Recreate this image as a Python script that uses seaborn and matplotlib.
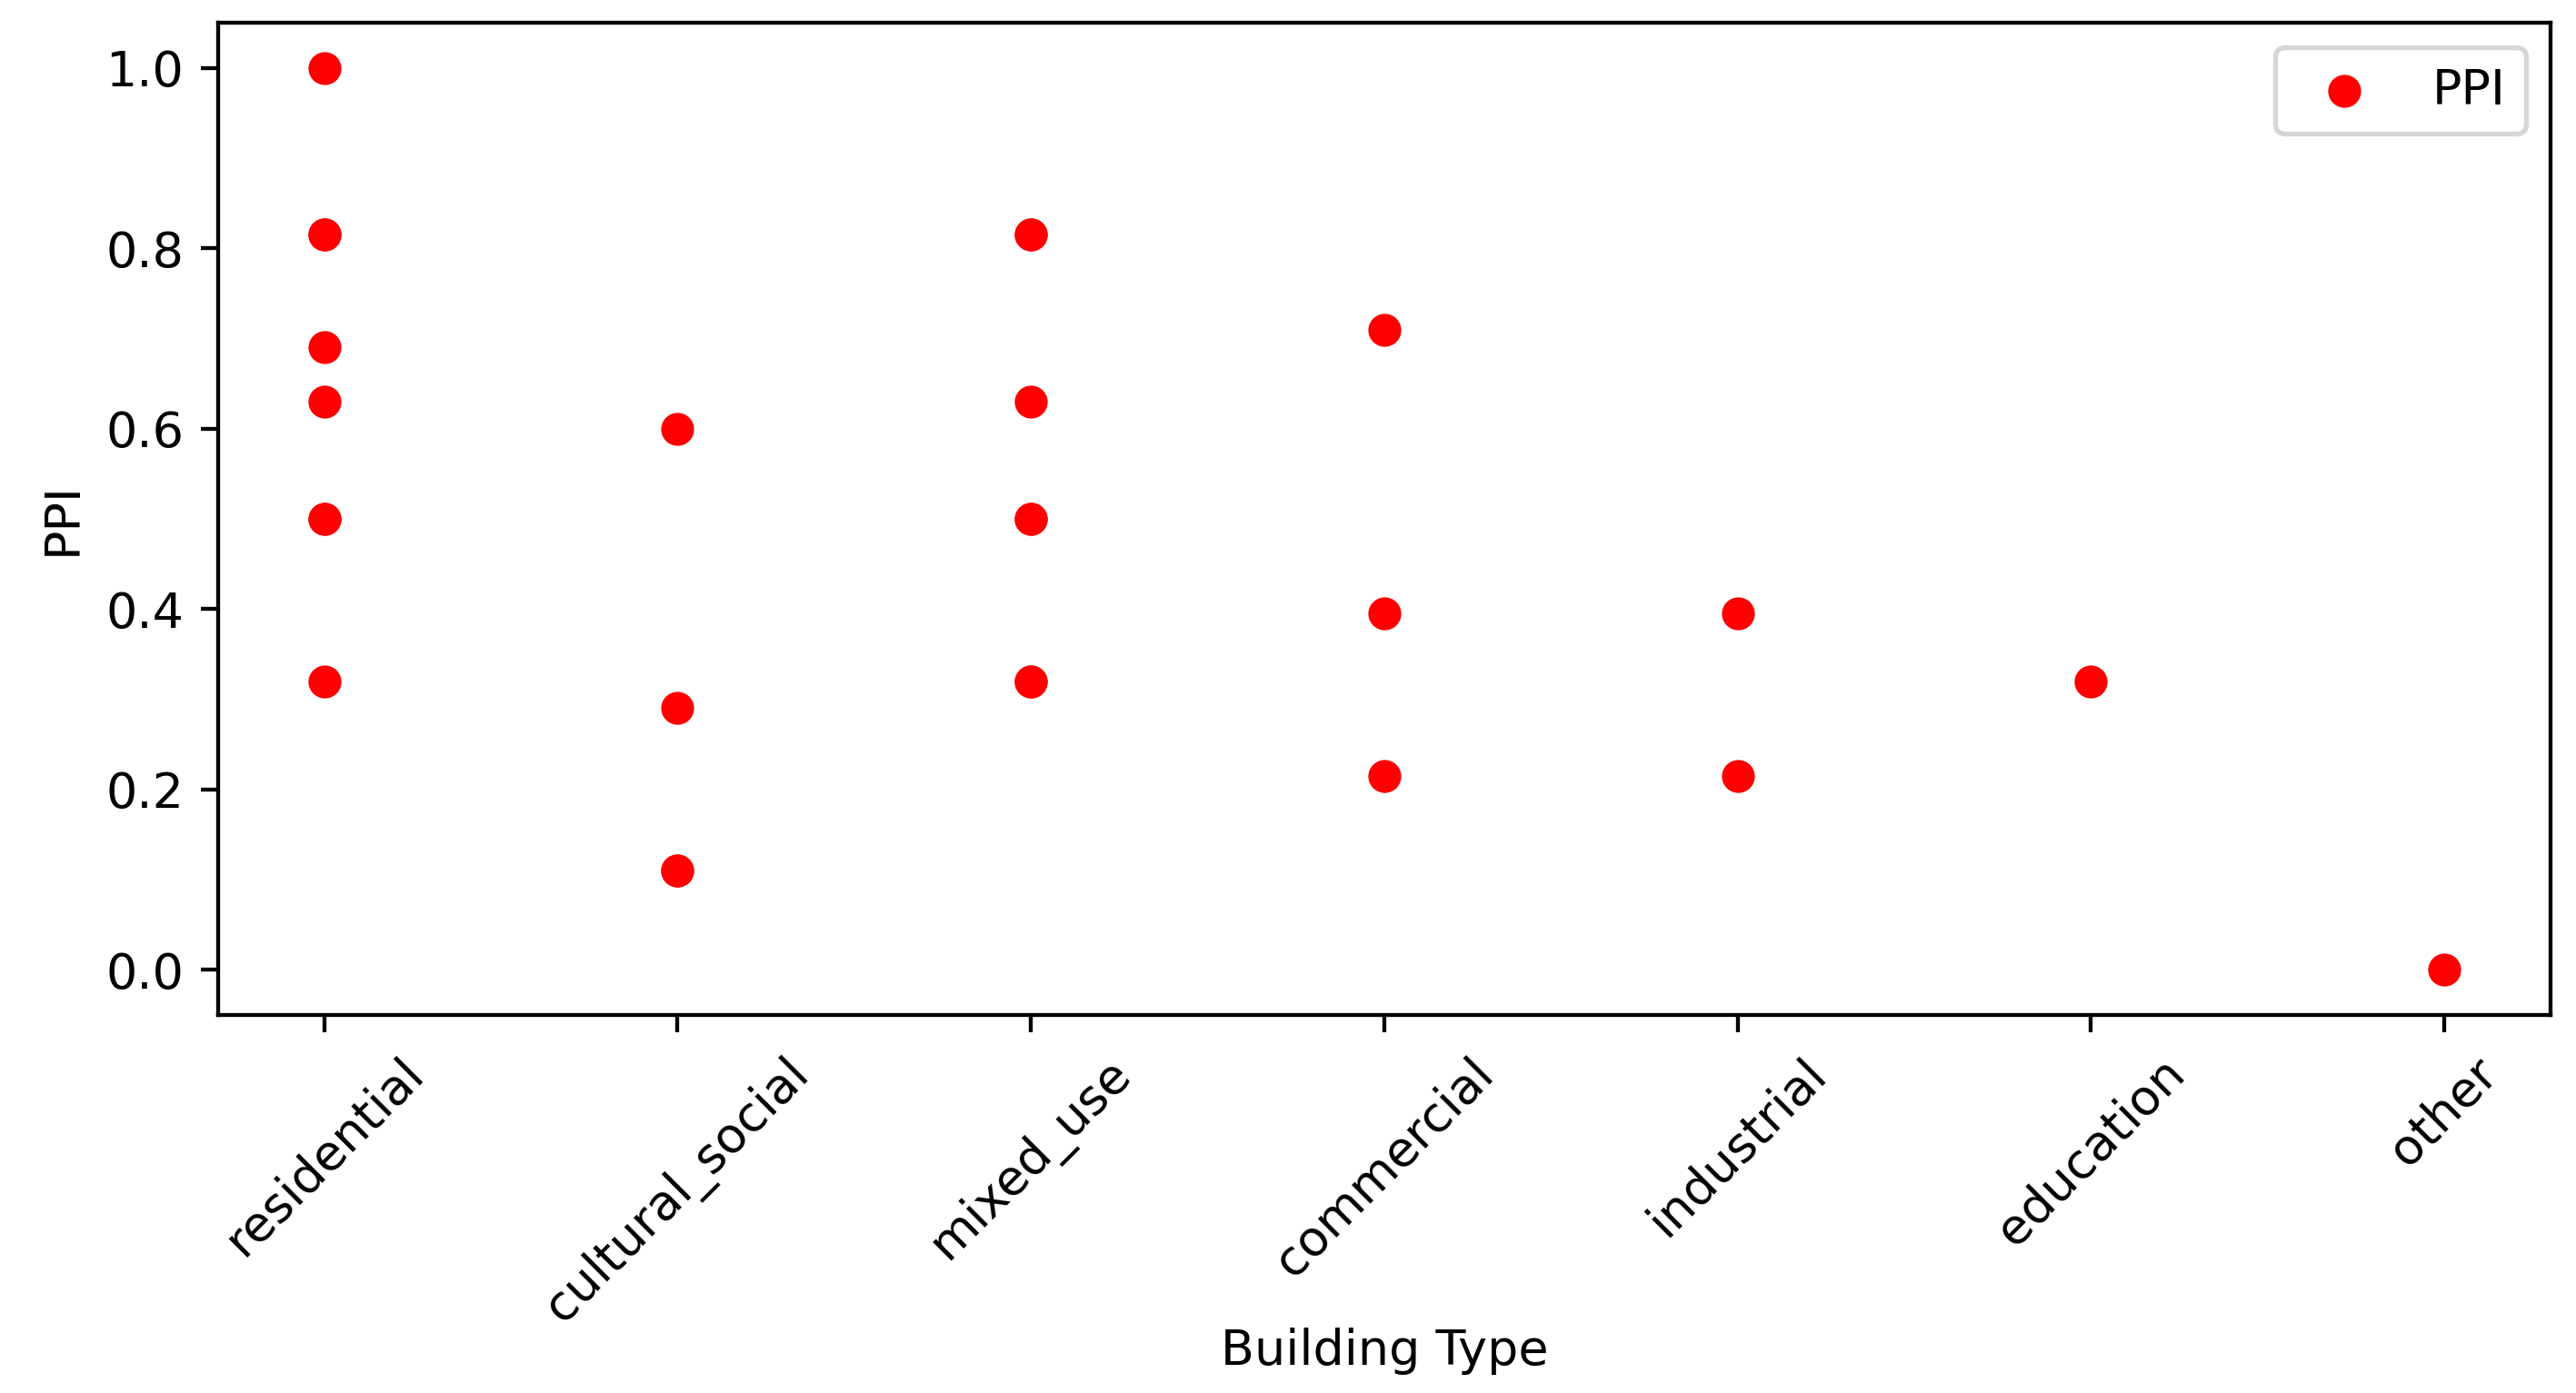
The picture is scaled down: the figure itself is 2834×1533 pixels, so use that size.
import pandas as pd
import numpy as np
import matplotlib
matplotlib.use('Agg')
import matplotlib.pyplot as plt
import seaborn as sns

# 数据（从图上读取，重叠的点保留两次）
building_type = (
    ['residential'] * 8
    + ['cultural_social'] * 4
    + ['mixed_use'] * 7
    + ['commercial'] * 3
    + ['industrial'] * 2
    + ['education'] * 1
    + ['other'] * 1
)
ppi = (
    [1.0, 0.815, 0.815, 0.69, 0.63, 0.50, 0.50, 0.32]
    + [0.60, 0.29, 0.11, 0.11]
    + [0.815, 0.815, 0.63, 0.50, 0.50, 0.32, 0.32]
    + [0.71, 0.395, 0.215]
    + [0.395, 0.215]
    + [0.32]
    + [0.0]
)

df = pd.DataFrame({'Building Type': building_type, 'PPI': ppi})

dpi = 389
fig, ax = plt.subplots(figsize=(2834 / dpi, 1533 / dpi), dpi=dpi)
fig.subplots_adjust(left=0.0847, right=0.99, bottom=0.2714, top=0.9837)

sns.scatterplot(data=df, x='Building Type', y='PPI', color='red',
                s=45, linewidth=0, label='PPI', ax=ax)

ax.set_xlabel('Building Type')
ax.set_ylabel('PPI')
ax.xaxis.set_label_coords(0.5, -0.315)
plt.setp(ax.get_xticklabels(), rotation=45)
ax.legend(loc='upper right')

fig.savefig('out.png', dpi=dpi)
